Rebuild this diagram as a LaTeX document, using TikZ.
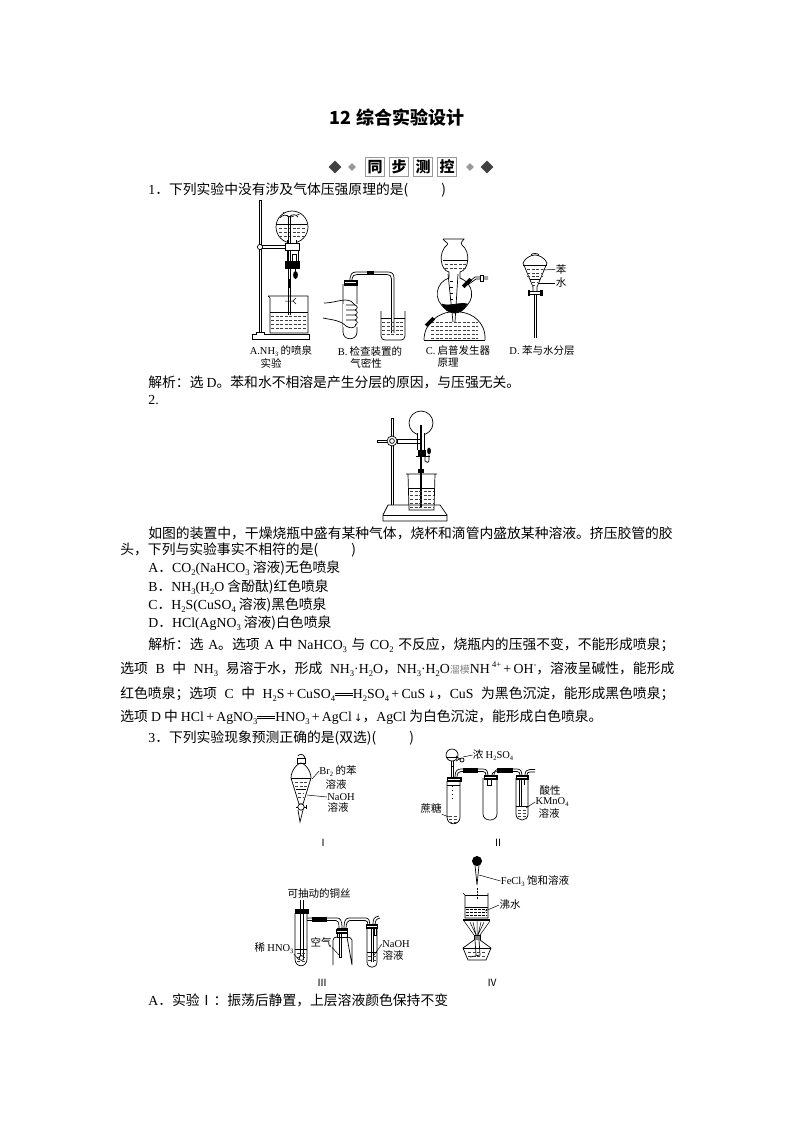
\documentclass[tikz,border=0pt]{standalone}
\usepackage{graphicx}
\usepackage{fontspec}
\usetikzlibrary{shapes.geometric}
\setmainfont{Noto Sans CJK SC}
\newfontfamily\latfont{Liberation Serif}
\newfontfamily\symfont{DejaVu Sans}
\newcommand{\tm}[1]{{\latfont #1}}
\newcommand{\sbs}[1]{\raisebox{-0.22em}{\scalebox{0.62}{\latfont #1}}}
\newcommand{\sps}[1]{\raisebox{0.45em}{\scalebox{0.62}{\latfont #1}}}
\newcommand{\eqsign}{\rule[0.18em]{1.3em}{0.05em}\kern-1.3em\rule[0.34em]{1.3em}{0.05em}}
\tikzset{
  txt/.style={anchor=west,inner sep=0pt,font=\fontsize{13.8}{16}\selectfont},
  capt/.style={anchor=center,inner sep=0pt,font=\fontsize{10.5}{12}\selectfont},
  roman/.style={anchor=center,inner sep=0pt,font=\fontsize{10}{12}\selectfont},
  boxchar/.style={draw=black!40,line width=0.4pt,minimum size=19pt,inner sep=0pt,font=\fontsize{15}{16}\selectfont\bfseries},
  bigdia/.style={fill=black!75,diamond,inner sep=0pt,minimum size=13pt},
  smalldia/.style={fill=black!40,diamond,inner sep=0pt,minimum size=8pt},
  leader/.style={line width=0.5pt},
  liq/.style={line width=0.4pt,black!75,dash pattern=on 3pt off 1.5pt},
  blk/.style={fill=black,draw=black},
  wht/.style={fill=white,draw=black}
}
\begin{document}
\begin{tikzpicture}[x=1pt,y=-1pt,line width=0.7pt]
\useasboundingbox (0,0) rectangle (794,1123);
% heading
\node[anchor=center,inner sep=0pt,font=\fontsize{18}{20}\selectfont\bfseries] (title) at (397,118) {12 综合实验设计};
\node[bigdia] (dia1) at (335,167) {};
\node[smalldia] (dia2) at (352,167) {};
\node[smalldia] (dia3) at (470,167) {};
\node[bigdia] (dia4) at (487,167) {};
\node[boxchar] (tong) at (375,167) {同};
\node[boxchar] (bu) at (399,167) {步};
\node[boxchar] (ce) at (423,167) {测};
\node[boxchar] (kong) at (447,167) {控};
% text
\node[txt] (q1) at (148,190) {\tm{1}．下列实验中没有涉及气体压强原理的是(\hspace{2.4em})};
\node[txt] (a1) at (148,382) {解析：选 \tm{D}。苯和水不相溶是产生分层的原因，与压强无关。};
\node[txt] (q2) at (148,400) {\tm{2.}};
\node[txt] (q2a) at (148,533) {如图的装置中，干燥烧瓶中盛有某种气体，烧杯和滴管内盛放某种溶液。挤压胶管的胶};
\node[txt] (q2b) at (120,550) {头，下列与实验事实不相符的是(\hspace{2.4em})};
\node[txt] (optA) at (148,568) {\tm{A}．\tm{CO}\sbs{2}\tm{(NaHCO}\sbs{3} 溶液)无色喷泉};
\node[txt] (optB) at (148,587) {\tm{B}．\tm{NH}\sbs{3}\tm{(H}\sbs{2}\tm{O} 含酚酞)红色喷泉};
\node[txt] (optC) at (148,605) {\tm{C}．\tm{H}\sbs{2}\tm{S(CuSO}\sbs{4} 溶液)黑色喷泉};
\node[txt] (optD) at (148,623) {\tm{D}．\tm{HCl(AgNO}\sbs{3} 溶液)白色喷泉};
\node[txt] (a2a) at (148,645) {\makebox[526pt][s]{解析：选 \tm{A}。选项 \tm{A} 中 \tm{NaHCO}\sbs{3} 与 \tm{CO}\sbs{2} 不反应，烧瓶内的压强不变，不能形成喷泉；}};
\node[txt] (a2b) at (120,669) {\makebox[554pt][s]{选项 \tm{B} 中 \tm{NH}\sbs{3} 易溶于水，形成 \tm{NH}\sbs{3}\tm{·H}\sbs{2}\tm{O}，\tm{NH}\sbs{3}\tm{·H}\sbs{2}\tm{O}{\color{black!50}\fontsize{10}{10}\selectfont 溜模}\tm{NH}\,\sps{4}\sps{+}\,\tm{+}\,\tm{OH}\sps{-}，溶液呈碱性，能形成}};
\node[txt] (a2c) at (120,694) {\makebox[554pt][s]{红色喷泉；选项 \tm{C} 中 \tm{H}\sbs{2}\tm{S}\,\tm{+}\,\tm{CuSO}\sbs{4}\eqsign\tm{H}\sbs{2}\tm{SO}\sbs{4}\,\tm{+}\,\tm{CuS}\,{\symfont\fontsize{10}{10}\selectfont ↓}，\tm{CuS} 为黑色沉淀，能形成黑色喷泉；}};
\node[txt] (a2d) at (120,717) {选项 \tm{D} 中 \tm{HCl}\,\tm{+}\,\tm{AgNO}\sbs{3}\eqsign\tm{HNO}\sbs{3}\,\tm{+}\,\tm{AgCl}\,{\symfont\fontsize{10}{10}\selectfont ↓}，\tm{AgCl} 为白色沉淀，能形成白色喷泉。};
\node[txt] (q3) at (148,738) {\tm{3}．下列实验现象预测正确的是(双选)(\hspace{2.4em})};
\node[txt] (q3a) at (148,1000) {\tm{A}．实验Ⅰ：振荡后静置，上层溶液颜色保持不变};
% figure A: fountain
\draw[wht] (259,200) rectangle (261,333);
\draw[wht] (252,334) -- (256,334) -- (256,332) -- (264,332) -- (264,334) -- (309,334) -- (309,339) -- (252,339) -- cycle;
\draw[wht] (292,227) circle (16);
\draw[wht] (287,240) -- (287,244) -- (296,244) -- (296,240);
\draw (276,224) -- (307,224);
\foreach \y in {228,232,236} \draw[liq] (279,\y) -- (305,\y);
\draw (289,217) .. controls (286,214) and (282,215) .. (280,218);
\draw (289,217) .. controls (292,214) and (296,214) .. (298,217);
\draw[dashed,line width=0.5pt] (289,217) -- (283,212);
\draw[dashed,line width=0.5pt] (291,217) -- (300,214);
\draw (288,216) -- (288,262) (290,216) -- (290,262);
\draw[wht] (261,245.5) rectangle (285,248.5);
\draw[wht] (285,243) rectangle (299,250);
\draw[wht] (260,247) circle (2.6);
\draw (287,250) -- (287,261) (298,250) -- (298,261);
\draw (292,254) -- (292,261) (296,254) -- (296,261);
\draw (292,254) -- (296,254);
\draw[blk] (285,261) rectangle (299,268);
\draw[blk] (295.5,275) ellipse (2 and 3.5);
\draw (295,268) -- (295,272);
\draw (288,268) -- (288,315) (290,268) -- (290,315);
\draw[blk] (288,279) rectangle (290.5,287);
\draw (268,296) -- (308,296) -- (308,333) -- (270,333) -- (270,298) -- (268,296);
\draw[leader] (285,301) -- (293,301) (293,301) -- (296,298) (293,301) -- (296,304);
\draw (270,312) -- (308,312);
\foreach \y in {316,320,324,328} \draw[liq] (271,\y) -- (307,\y);
\node[capt] (capA) at (281,351) {\tm{A.NH}\sbs{3} 的喷泉};
\node[capt] (capAb) at (271,363) {实验};
% figure B: air tightness
\draw (343,284) -- (343,332) .. controls (343,341) and (357,341) .. (357,332) -- (357,284);
\draw (350,281) -- (350,278) .. controls (350,275) and (352,272) .. (356,272) -- (388,272) .. controls (392,272) and (394,274) .. (394,278) -- (394,333);
\draw (352,281) -- (352,279) .. controls (352,276) and (354,274.5) .. (357,274.5) -- (387,274.5) .. controls (390,274.5) and (391.5,276) .. (391.5,279) -- (391.5,333);
\draw[blk] (367,271.5) rectangle (373,274);
\draw[blk] (344,280) rectangle (357,285);
\draw[white,line width=1pt] (345,282.5) -- (356,282.5);
\draw[fill=white,draw=white] (343,304) rectangle (359,326);
\draw (324,303) .. controls (332,303) and (340,300) .. (345,300) .. controls (350,300) and (353,302) .. (355,305);
\draw (323,318) .. controls (332,320) and (340,320) .. (346,326) .. controls (350,329) and (355,328) .. (356,325);
\foreach \y in {305,310,315,320} \draw (346,\y) -- (355,\y) .. controls (358,\y+1) and (358,\y+4) .. (355,\y+5);
\draw (381,311) -- (381,336) .. controls (381,339) and (383,340) .. (385,340) -- (401,340) .. controls (403,340) and (405,339) .. (405,336) -- (405,311);
\draw (381,318) -- (391,318) (394,318) -- (405,318);
\foreach \y in {322,326,330,334} \draw[liq] (382,\y) -- (404,\y);
\node[capt] (capB) at (370,351) {\tm{B.} 检查装置的};
\node[capt] (capBb) at (366,363) {气密性};
% figure C: Kipp
\draw (443,239) .. controls (446,243) and (449,243) .. (447,245) .. controls (438,252) and (440,270) .. (449,272) -- (449,278) .. controls (436,282) and (432,300) .. (446,309);
\draw (443,239) -- (464,239) .. controls (461,243) and (460,243) .. (462,245) .. controls (471,252) and (469,270) .. (460,272) -- (460,278) .. controls (474,284) and (476,300) .. (463,309);
\draw (443,260) -- (468,260);
\foreach \y in {264,268} \draw[liq] (445,\y) -- (466,\y);
\draw (448,274) -- (453,322) (458,274) -- (455,322);
\foreach \y in {281,287,293,299} \draw (450,\y) -- (453,\y);
\draw[blk] (442,304) .. controls (446,315) and (462,317) .. (467,304) .. controls (460,302) and (448,307) .. (442,304);
\draw (424,340) .. controls (424,322) and (440,313) .. (450,312) (460,312) .. controls (472,313) and (486,322) .. (485,340);
\draw (424,340) -- (485,340);
\foreach \y in {322,326,330,334,338} \draw[liq] (431,\y) -- (478,\y);
\draw[white,line width=3pt] (433,316) -- (427,323);
\draw[blk,rotate around={45:(430,322)}] (425,320.5) rectangle (435,323.5);
\draw[blk,rotate around={45:(467,283)}] (462,281.5) rectangle (472,284.5);
\draw (469,284) -- (476,279) -- (488,279) (470,281) -- (475,277) -- (488,277);
\draw[wht] (480,275) rectangle (483,281);
\node[capt] (capC) at (458,351) {\tm{C.} 启普发生器};
\node[capt] (capCb) at (448,363) {原理};
% figure D: separating funnel
\draw (531,255) .. controls (531,253) and (539,253) .. (539,255);
\draw (523,263) .. controls (525,258) and (531,255) .. (535,255) .. controls (539,255) and (545,258) .. (547,263) -- (537,287) -- (537,292) (523,263) -- (533,287) -- (533,292);
\draw (523,265) -- (547,265);
\draw (530,279) -- (540,279);
\foreach \y in {269,273,276} \draw[liq] (527,\y) -- (543,\y);
\foreach \y in {282,285} \draw[liq] (532,\y) -- (538,\y);
\draw[blk] (528,290) rectangle (529.5,295) (540.5,290) rectangle (542,295);
\draw (529,291) -- (541,291) (529,294) -- (541,294);
\draw (534,295) -- (534,338) (536,295) -- (536,338);
\node[capt] (lblBen) at (561,269) {苯};
\node[capt] (lblShui) at (561,283) {水};
\coordinate (ptBen) at (543,270);
\coordinate (ptShui) at (538,283);
\draw[leader] (ptBen) -- (lblBen);
\draw[leader] (ptShui) -- (lblShui);
\node[capt] (capD) at (542,351) {\tm{D.} 苯与水分层};
% figure 2
\draw[wht] (391,418) rectangle (393,512);
\draw[wht] (388,505) -- (440,505) -- (447,515) -- (447,521) -- (383,521) -- (383,515) -- cycle;
\draw (383,515) -- (447,515);
\draw[wht] (377,440) rectangle (387,442);
\draw[wht] (397,439.5) rectangle (420,443);
\draw[wht] (392,441) circle (5);
\draw (392,441) circle (2.4);
\draw[wht] (421,423) circle (12);
\draw[fill=white,draw=white] (418,433) rectangle (424,436);
\draw (417,433) -- (417,450) (424.5,433) -- (424.5,450);
\draw (420,425) -- (420,508) (421.5,425) -- (421.5,508);
\draw[blk] (418,450) rectangle (425,455);
\draw (416,456.5) -- (430,456.5);
\draw[blk] (429,451) ellipse (1.5 and 3);
\draw (429,455) -- (429,460) .. controls (429,463) and (426,463) .. (425,461) -- (425,456);
\draw[blk] (418,469) rectangle (423,472);
\draw (406,474) -- (437,474) (408,474) -- (409,510) -- (434,510) -- (435,474);
\draw (409,488) -- (435,488);
\foreach \y in {491,495,499,503,507} \draw[liq] (410,\y) -- (434,\y);
% figure I
\draw[wht] (297,758) rectangle (305,763);
\draw (298,756) .. controls (298,754) and (304,754) .. (304,756) -- (305,758);
\draw (291,778) .. controls (291,770) and (298,763) .. (301,763) .. controls (304,763) and (311,770) .. (311,778) -- (303,804) -- (299,804) -- cycle;
\draw (291,778) -- (311,778);
\foreach \y in {782,786} \draw[liq] (295,\y) -- (307,\y);
\foreach \y in {793,797} \draw[liq] (298,\y) -- (304,\y);
\draw (296,789) -- (306,789);
\draw[wht] (301,807) circle (3.2);
\draw (304,807) -- (306,807) (306,805) -- (306,809) (298,807) -- (296,807);
\draw (298,810) -- (300,822) -- (303,810);
\node[capt] (lblBr) at (338,771) {\tm{Br}\sbs{2} 的苯};
\node[capt] (lblBrb) at (336,784) {溶液};
\node[capt] (lblNa) at (341,797) {\tm{NaOH}};
\node[capt] (lblNab) at (338,807) {溶液};
\coordinate (ptBr) at (312,779);
\coordinate (ptNa) at (307,795);
\draw[leader] (ptBr) -- (lblBr.west);
\draw[leader] (ptNa) -- (lblNa.west);
\node[roman] (romI) at (323,843) {Ⅰ};
% figure II
\draw (447,781) -- (447,817) .. controls (447,826) and (460,826) .. (460,817) -- (460,781);
\draw[blk] (447.5,777) rectangle (461,781);
\draw[white,line width=0.8pt] (448,779) -- (460,779);
\draw (447,785) -- (460,785);
\foreach \y in {816,819,822} \draw[liq] (449,\y) -- (458,\y);
\draw[dash pattern=on 1pt off 3pt,line width=1pt] (452,786) -- (452,802);
\draw[wht] (452,755) circle (6);
\draw (447,757) -- (457,757);
\draw (451,761) -- (451,777) (453,761) -- (453,777);
\draw (451,766) -- (454,766);
\draw (456,756) -- (461,760);
\draw[wht] (462,760) circle (2);
\draw (456,761) -- (461,758);
\draw (455,777) .. controls (455,771) and (457,769) .. (461,769) -- (483,769) .. controls (487,769) and (488,772) .. (488,775);
\draw (457,777) .. controls (457,773) and (459,771.5) .. (461,771.5) -- (483,771.5) .. controls (485,771.5) and (486,773) .. (486,775);
\draw[blk] (463,768.5) rectangle (477,772);
\draw (483,778) -- (483,814) .. controls (483,822) and (497,822) .. (497,814) -- (497,778);
\draw[blk] (484,775) rectangle (497,779);
\draw[white,line width=0.8pt] (485,777) -- (496,777);
\draw (487,779) -- (487,785) -- (491,785) -- (491,779);
\draw (494,775) .. controls (494,771) and (496,769) .. (500,769) -- (517,769) .. controls (521,769) and (522,772) .. (522,775);
\draw (492,775) .. controls (492,772) and (495,771.5) .. (500,771.5) -- (517,771.5) .. controls (519,771.5) and (520,773) .. (520,775);
\draw[blk] (497,768.5) rectangle (512,772);
\draw (516,778) -- (516,814) .. controls (516,822) and (528,822) .. (528,814) -- (528,778);
\draw[blk] (516,775) rectangle (528,779);
\draw[white,line width=0.8pt] (517,777) -- (527,777);
\draw (519,779) -- (519,806) (521,779) -- (521,806);
\draw (524,779) -- (524,785);
\draw (516,806) -- (528,806);
\foreach \y in {810,813,816} \draw[liq] (518,\y) -- (527,\y);
\draw (525,775) .. controls (525,771) and (527,769.5) .. (530,769.5) -- (535,769.5) (527,775) .. controls (527,773) and (528,772) .. (530,772) -- (535,772);
\node[capt] (lblAcid) at (493,755) {浓 \tm{H}\sbs{2}\tm{SO}\sbs{4}};
\node[capt] (lblZhe) at (431,809) {蔗糖};
\node[capt] (lblSuan) at (550,791) {酸性};
\node[capt] (lblKm) at (552,802) {\tm{KMnO}\sbs{4}};
\node[capt] (lblKmb) at (549,813) {溶液};
\coordinate (ptAcid) at (463,757);
\coordinate (ptZhe) at (449,817);
\coordinate (ptKm) at (526,808);
\draw[leader] (ptAcid) -- (lblAcid.west);
\draw[leader] (ptZhe) -- (lblZhe.south east);
\draw[leader] (ptKm) -- (lblKm.west);
\node[roman] (romII) at (498,843) {Ⅱ};
% figure III
\node[capt] (lblWire) at (319,893) {可抽动的铜丝};
\draw (295,913) -- (295,959) .. controls (295,968) and (307,968) .. (307,959) -- (307,913);
\draw (300,900) -- (300,960) (303,900) -- (303,960);
\draw[blk] (295,909) rectangle (308,913);
\draw (295,949) -- (307,949);
\foreach \y in {953,957,961} \draw[liq] (297,\y) -- (306,\y);
\draw[wht] (301.5,958) circle (2.4);
\draw (307,918) -- (337,918) .. controls (340,918) and (342,920) .. (342,928);
\draw (307,920.5) -- (336,920.5) .. controls (338,920.5) and (339,922) .. (339,928);
\draw[blk] (312,917.5) rectangle (326,921);
\draw (337,928) rectangle (347,937);
\draw (333,965) -- (333,940) .. controls (333,938) and (335,937) .. (337,937) (347,937) .. controls (349,937) and (352,938) .. (352,940) -- (352,965) -- cycle;
\draw[blk] (336.5,929) rectangle (347.5,933);
\draw[white,line width=0.8pt] (337,931) -- (347,931);
\draw (339,933) -- (339,957) -- (341,957) -- (341,933);
\draw (344,928) .. controls (344,922) and (345,918) .. (349,918) -- (366,918) .. controls (369,918) and (370,922) .. (370,925);
\draw (346,928) .. controls (346,923) and (348,920.5) .. (350,920.5) -- (365,920.5) .. controls (367,920.5) and (368,922) .. (368,925);
\draw (367,928) -- (367,962) .. controls (367,969) and (377,969) .. (377,962) -- (377,928);
\draw[blk] (366.5,924) rectangle (377.5,928);
\draw[white,line width=0.8pt] (367,926) -- (377,926);
\draw (371,928) -- (371,962) (373,928) -- (373,962);
\draw (374,928) -- (374,935) -- (376,935) -- (376,928);
\draw (367,952) -- (377,952);
\foreach \y in {956,960} \draw[liq] (368,\y) -- (376,\y);
\draw (373,924) .. controls (373,919) and (374,917) .. (379,916) (375,924) .. controls (375,921) and (376,919) .. (380,918);
\node[capt] (lblHno) at (274,948) {稀 \tm{HNO}\sbs{3}};
\node[capt] (lblAir) at (321,942) {空气};
\node[capt] (lblNaoh) at (396,944) {\tm{NaOH}};
\node[capt] (lblNaohb) at (393,955) {溶液};
\coordinate (ptHno) at (299,960);
\coordinate (ptAir) at (339,955);
\coordinate (ptNaoh) at (374,955);
\draw[leader] (ptHno) -- (lblHno.south east);
\draw[leader] (ptAir) -- (lblAir.south east);
\draw[leader] (ptNaoh) -- (lblNaoh.west);
\node[roman] (romIII) at (322,983) {Ⅲ};
% figure IV
\draw[blk] (477,861) circle (4.6);
\draw (475,865) -- (477,885) -- (479,865);
\draw[dash pattern=on 1.5pt off 1.5pt,line width=1pt] (477,888) -- (477,900);
\draw (463,893) -- (465,895) -- (465,918) -- (488,918) -- (488,893);
\draw (465,895) -- (488,895);
\draw (465,907) -- (488,907);
\foreach \y in {909,912,915} \draw[line width=0.8pt,dash pattern=on 3pt off 1pt] (466,\y) -- (487,\y);
\draw[line width=1.6pt] (463,920) -- (490,920);
\draw[leader] (464,921) -- (474,935) (470,922) -- (476,935) (484,922) -- (478,935) (490,921) -- (480,935) (477,921) -- (477,935) (473,922) -- (476,935) (481,922) -- (478,935);
\draw[fill=black!50,draw=black] (474,935) rectangle (480,940);
\draw[wht] (474,940) -- (463,948) -- (468,960) -- (486,960) -- (491,948) -- (480,940);
\draw (463,948) -- (491,948);
\draw (475,940) -- (476,955) (479,940) -- (480,955) -- (470,957);
\foreach \y in {952,956} \draw[liq] (468,\y) -- (486,\y);
\node[capt] (lblFe) at (535,881) {\tm{FeCl}\sbs{3} 饱和溶液};
\node[capt] (lblFei) at (510,905) {沸水};
\coordinate (ptFe) at (479,875);
\coordinate (ptFei) at (485,911);
\draw[leader] (ptFe) -- (lblFe.west);
\draw[leader] (ptFei) -- (lblFei.west);
\node[roman] (romIV) at (492,983) {Ⅳ};
\end{tikzpicture}
\end{document}
